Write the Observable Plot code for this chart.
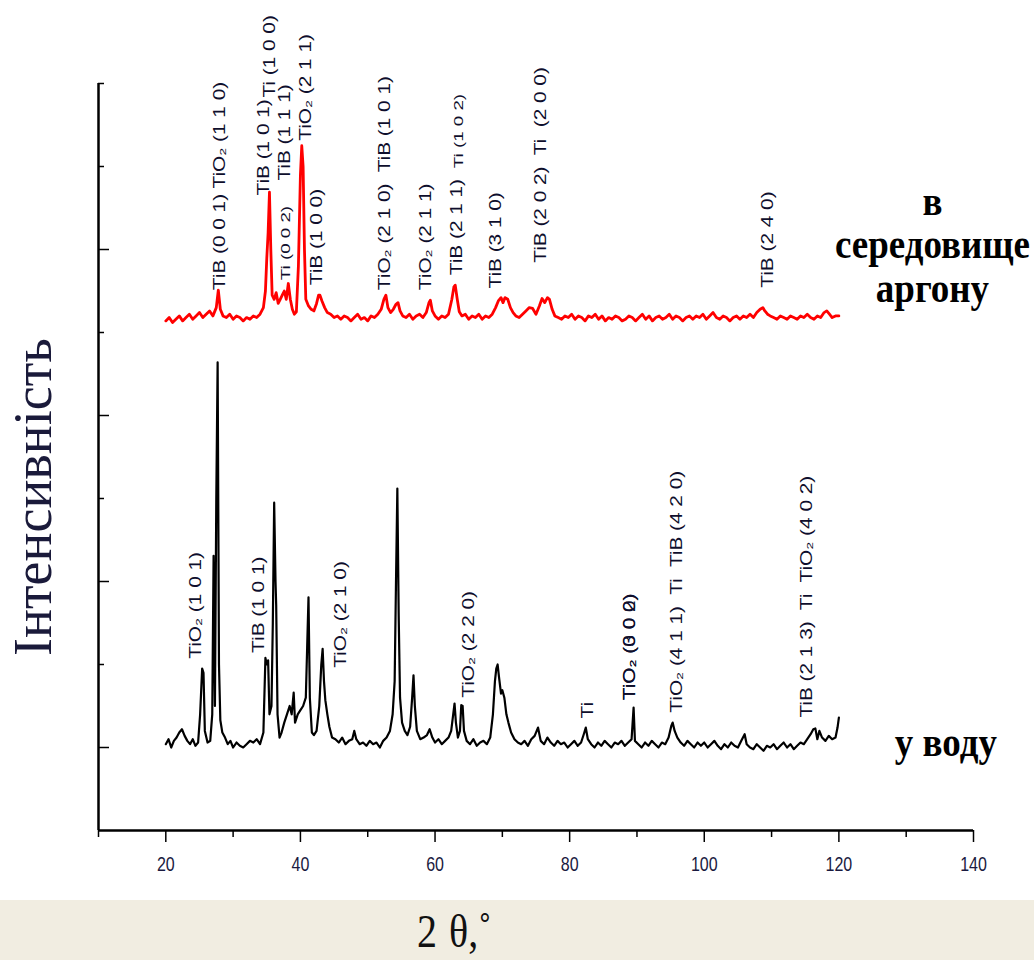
<!DOCTYPE html>
<html><head><meta charset="utf-8">
<script src="https://cdn.jsdelivr.net/npm/d3@7"></script>
<script src="https://cdn.jsdelivr.net/npm/@observablehq/plot@0.6"></script>
<style>
body{margin:0;background:#fff;}
#wrap{width:1034px;position:relative;}
#chart svg{display:block;}
#foot{width:1034px;height:60px;background:#f1ede1;position:relative;overflow:hidden;}
#xl{position:absolute;left:417px;top:4px;font-family:"Liberation Serif","Times New Roman",serif;font-size:40px;color:#111;transform:scaleY(1.15);transform-origin:0 0;white-space:pre;word-spacing:2px;}
g[aria-label="x-axis tick label"]{fill:#1a1a40;}
</style></head><body>
<div id="wrap"><div id="chart"></div><div id="foot"><span id="xl">2 θ,˚</span></div></div>
<script>
// ---- data: sample in water (black) ----
const waterX = [20.0,20.4,20.8,21.2,21.6,22.0,22.4,22.8,23.2,23.6,24.0,24.4,24.8,25.1,25.4,25.6,25.8,26.2,26.6,26.9,27.1,27.3,27.5,27.7,27.9,28.1,28.4,28.8,29.2,29.6,30.0,30.5,31.0,31.5,32.0,32.5,33.0,33.5,34.0,34.5,34.8,35.0,35.2,35.4,35.7,35.9,36.1,36.3,36.4,36.6,36.9,37.2,37.6,38.0,38.4,38.7,39.0,39.2,39.6,40.0,40.4,40.8,41.0,41.2,41.4,41.7,42.0,42.4,42.8,43.1,43.3,43.5,43.7,44.0,44.3,44.7,45.2,45.7,46.2,46.7,47.2,47.7,48.0,48.3,48.8,49.3,49.8,50.3,50.8,51.3,51.8,52.3,52.8,53.3,53.7,54.0,54.2,54.4,54.6,54.8,55.1,55.5,55.9,56.3,56.6,56.8,57.0,57.3,57.8,58.3,58.8,59.2,59.6,60.0,60.5,61.0,61.5,62.0,62.4,62.7,62.9,63.1,63.4,63.7,63.9,64.1,64.3,64.7,65.2,65.7,66.2,66.7,67.2,67.7,68.2,68.6,68.9,69.1,69.3,69.5,69.8,70.0,70.3,70.6,70.9,71.3,71.8,72.3,72.8,73.3,73.8,74.3,74.8,75.3,75.7,76.2,76.7,77.2,77.7,78.2,78.7,79.2,79.7,80.2,80.7,81.2,81.7,82.1,82.4,82.7,83.2,83.7,84.2,84.7,85.2,85.7,86.2,86.7,87.2,87.7,88.2,88.7,89.2,89.5,89.7,90.2,90.7,91.2,91.7,92.2,92.7,93.2,93.7,94.2,94.7,95.1,95.3,95.6,96.0,96.5,97.0,97.5,98.0,98.5,99.0,99.5,100.0,100.5,101.0,101.5,102.0,102.5,103.0,103.5,104.0,104.5,105.0,105.5,106.0,106.3,106.8,107.3,107.8,108.3,108.8,109.3,109.8,110.3,110.8,111.3,111.8,112.3,112.8,113.3,113.8,114.3,114.8,115.3,115.8,116.2,116.5,116.8,117.1,117.5,118.0,118.5,119.0,119.5,119.8,120.0];
const waterI = [104,110,100,108,112,118,122,114,108,104,110,102,106,140,195,190,120,106,108,140,331,150,400,564,200,133,118,112,104,108,100,106,102,100,104,108,106,110,104,118,208,200,205,140,150,250,395,300,271,140,112,118,130,140,150,140,166,130,140,145,150,160,220,281,160,118,115,120,150,200,219,180,157,140,125,112,110,106,112,104,108,110,120,110,104,106,102,108,104,106,100,108,112,120,140,180,300,412,259,160,130,120,115,125,160,187,150,120,110,112,115,122,112,106,110,104,108,112,120,140,153,130,112,120,151,150,120,108,104,110,102,106,108,104,112,140,180,195,200,185,165,169,160,140,130,118,110,106,104,108,102,110,114,124,108,104,112,106,102,108,104,106,100,104,108,102,106,116,124,110,104,100,106,102,108,104,100,106,104,108,102,106,110,148,108,104,100,106,102,108,104,100,106,104,112,126,130,120,112,106,102,108,104,100,106,102,106,100,104,108,102,98,104,100,106,102,100,108,116,104,100,98,104,100,96,102,100,104,98,102,106,100,104,98,102,106,104,110,116,122,123,110,120,112,108,114,110,112,124,136];

// ---- data: sample in argon (red) ----
const argonX = [20.0,20.5,21.0,21.5,22.0,22.5,23.0,23.5,24.0,24.5,25.0,25.5,26.0,26.5,27.0,27.5,27.8,28.1,28.5,29.0,29.5,30.0,30.5,31.0,31.5,32.0,32.5,33.0,33.5,34.0,34.5,34.8,35.0,35.2,35.4,35.6,35.8,36.1,36.4,36.7,37.0,37.3,37.6,37.9,38.2,38.5,38.8,39.1,39.4,39.7,40.0,40.2,40.4,40.6,40.8,41.2,41.6,42.0,42.4,42.7,42.9,43.2,43.6,44.0,44.5,45.0,45.5,46.0,46.5,47.0,47.5,48.0,48.5,49.0,49.5,50.0,50.5,51.0,51.5,52.0,52.4,52.7,53.0,53.4,53.8,54.2,54.5,54.8,55.2,55.7,56.2,56.7,57.2,57.7,58.2,58.7,59.1,59.3,59.6,60.0,60.5,61.0,61.5,62.0,62.5,62.8,63.0,63.3,63.6,64.0,64.5,65.0,65.5,66.0,66.5,67.0,67.5,68.0,68.5,69.0,69.4,69.8,70.1,70.4,70.8,71.2,71.6,72.0,72.5,73.0,73.5,74.0,74.5,75.0,75.5,75.9,76.3,76.7,77.0,77.4,77.8,78.3,78.8,79.3,79.8,80.3,80.8,81.3,81.8,82.3,82.8,83.3,83.8,84.3,84.8,85.3,85.8,86.3,86.8,87.3,87.8,88.3,88.8,89.3,89.8,90.3,90.8,91.3,91.8,92.3,92.8,93.3,93.8,94.3,94.8,95.3,95.8,96.3,96.8,97.3,97.8,98.3,98.8,99.3,99.8,100.3,100.8,101.3,101.8,102.3,102.8,103.3,103.8,104.3,104.8,105.3,105.8,106.3,106.8,107.3,107.8,108.3,108.7,109.0,109.4,109.8,110.3,110.8,111.3,111.8,112.3,112.8,113.3,113.8,114.3,114.8,115.3,115.8,116.3,116.8,117.3,117.8,118.2,118.6,119.0,119.5,120.0];
const argonI = [614,618,612,616,620,614,618,622,616,620,624,618,622,626,620,630,651,628,620,618,622,616,620,618,614,618,616,620,618,622,630,650,689,720,769,700,645,640,648,635,640,645,650,640,659,640,628,622,625,680,790,825,800,700,640,632,628,626,635,645,645,638,630,624,622,618,620,616,620,618,614,618,622,616,618,614,620,618,622,628,640,645,630,624,628,634,636,626,620,618,622,616,620,622,618,624,636,639,626,620,616,620,618,622,640,655,657,640,625,620,622,616,620,618,622,616,620,618,622,630,638,642,636,642,640,630,624,620,618,622,626,630,629,622,632,641,636,642,640,628,620,618,616,620,618,622,616,620,618,614,620,618,622,616,620,614,618,616,620,618,614,616,620,618,614,618,622,616,620,614,618,620,616,618,622,616,620,618,614,618,620,616,620,618,622,616,620,624,618,616,620,618,614,618,620,616,620,618,622,618,624,628,630,626,622,620,618,616,620,618,616,620,618,616,620,618,622,618,616,620,618,624,626,622,618,620,620];

// ---- peak annotations ----
const peakX = [28.0,34.5,35.4,37.7,40.8,42.4,52.5,58.6,63.3,69.1,75.7,109.4,24.4,33.8,46.0,65.0,82.7,89.0,89.0,96.0,115.2];
const peakY = [651,765,883,783,831,657,651,651,669,653,684,654,207,214,196,160,135,157,157,142,136];
const peakText = ["TiB (0 0 1) TiO₂ (1 1 0)","TiB (1 0 1)","Ti (1 0 0)","TiB (1 1 1)","TiO₂ (2 1 1)","TiB (1 0 0)","TiO₂ (2 1 0)  TiB (1 0 1)","TiO₂ (2 1 1)","TiB (2 1 1)","TiB (3 1 0)","TiB (2 0 2)  Ti  (2 0 0)","TiB (2 4 0)","TiO₂ (1 0 1)","TiB (1 0 1)","TiO₂ (2 1 0)","TiO₂ (2 2 0)","Ti","TiO₂ (3 0 0)","TiO₂ (0 0 2)","TiO₂ (4 1 1)  Ti  TiB (4 2 0)","TiB (2 1 3)  Ti  TiO₂ (4 0 2)"];
const minorPeakX = [37.8,63.6];
const minorPeakY = [663,798];
const minorPeakText = ["Ti (0 0 2)","Ti (1 0 2)"];

// ---- series labels ----
const seriesLabelX = [133.9,135.9];
const seriesLabelY = [706,106];
const seriesLabelText = ["в\nсередовище\nаргону","у воду"];

// ---- axes ----
const xMajorTicks = [20,40,60,80,100,120,140];
const xMinorTicks = [10,30,50,70,90,110,130];
const yMajorTicks = [100,300,500,700];
const yMinorTicks = [200,400,600,800,900];
const yTitle = "Інтенсивність";

const water = waterX.map((x,i)=>({x, y: waterI[i]}));
const argon = argonX.map((x,i)=>({x, y: argonI[i]}));
const peaks = peakX.map((x,i)=>({x, y: peakY[i], t: peakText[i]}));
const minorPeaks = minorPeakX.map((x,i)=>({x, y: minorPeakY[i], t: minorPeakText[i]}));
const seriesLabels = seriesLabelX.map((x,i)=>({x, y: seriesLabelY[i], t: seriesLabelText[i]}));

const sans = "'Liberation Sans', Arial, sans-serif";
const serif = "'Liberation Serif', 'Times New Roman', serif";

const chart = Plot.plot({
  width: 1034, height: 900,
  marginLeft: 98, marginRight: 61, marginTop: 83, marginBottom: 70,
  x: {domain: [10, 140]},
  y: {domain: [0, 900]},
  style: {background: "white", overflow: "visible"},
  marks: [
    Plot.line(argon, {x: "x", y: "y", stroke: "#ff0000", strokeWidth: 2.8}),
    Plot.line(water, {x: "x", y: "y", stroke: "#000", strokeWidth: 2.2}),
    Plot.axisX(xMajorTicks, {tickSize: 12, tickPadding: 14, fontSize: 16, fontFamily: sans, label: null, strokeWidth: 1.5}),
    Plot.axisX(xMinorTicks, {tickSize: 7, tickFormat: () => "", label: null, strokeWidth: 1.5}),
    Plot.axisY(yMajorTicks, {tickSize: -11, tickFormat: () => "", label: null, strokeWidth: 1.5}),
    Plot.axisY(yMinorTicks, {tickSize: -6, tickFormat: () => "", label: null, strokeWidth: 1.5}),
    Plot.ruleY([0], {stroke: "#000", strokeWidth: 2.5}),
    Plot.ruleX([10], {stroke: "#000", strokeWidth: 2.5}),
    Plot.text(peaks, {x: "x", y: "y", text: "t", rotate: -90, textAnchor: "start", lineAnchor: "middle", fontSize: 16, fontFamily: sans, fill: "#0e0e2c", ariaDescription: "peaks"}),
    Plot.text(minorPeaks, {x: "x", y: "y", text: "t", rotate: -90, textAnchor: "start", lineAnchor: "middle", fontSize: 12.5, fontFamily: sans, fill: "#0e0e2c", ariaDescription: "peaks-small"}),
    Plot.text(seriesLabels, {x: "x", y: "y", text: "t", textAnchor: "middle", lineAnchor: "middle", lineHeight: 1.05, fontSize: 37, fontWeight: "bold", fontFamily: serif, fill: "#000", ariaDescription: "series"}),
    Plot.text([yTitle], {frameAnchor: "left", rotate: -90, dx: -65, dy: 40, textAnchor: "middle", lineAnchor: "middle", fontSize: 54, fontFamily: serif, fill: "#1a1a3a", ariaDescription: "ytitle"})
  ]
});
document.getElementById("chart").appendChild(chart);

function stretch(sel, sx, sy) {
  chart.querySelectorAll(sel).forEach(t => {
    t.setAttribute("transform", (t.getAttribute("transform") || "") + ` scale(${sx},${sy})`);
  });
}
stretch('g[aria-description="peaks"] text', 1.3, 1);
stretch('g[aria-description="peaks-small"] text', 1.5, 1);
stretch('g[aria-description="series"] text', 1, 1.12);
stretch('g[aria-label="x-axis tick label"] text', 1, 1.25);
</script>
</body></html>
